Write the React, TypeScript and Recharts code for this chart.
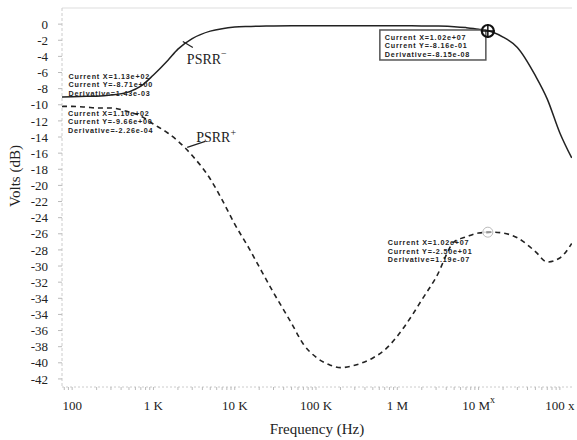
import {
  LineChart,
  Line,
  XAxis,
  YAxis,
  Label,
  ReferenceDot,
  ReferenceLine,
} from "recharts";

// frequency grid (Hz)
const frequencies = [
  75, 100, 150, 200, 300, 500, 700, 1e3, 1.5e3, 2e3, 3e3, 5e3, 7e3, 1e4, 1.5e4,
  2e4, 3e4, 5e4, 7e4, 1e5, 1.5e5, 2e5, 3e5, 5e5, 7e5, 1e6, 1.5e6, 2e6, 3e6, 5e6,
  7e6, 1e7, 1.5e7, 2e7, 3e7, 5e7, 7e7, 1e8, 1.4e8,
];

// PSRR- (solid)
const psrrMinus = [
  -9.05, -9.0, -8.95, -8.93, -8.8, -8.4, -7.7, -6.3, -4.5, -3.1, -1.8, -0.87,
  -0.56, -0.37, -0.29, -0.25, -0.22, -0.2, -0.2, -0.2, -0.2, -0.2, -0.2, -0.2,
  -0.2, -0.2, -0.21, -0.22, -0.24, -0.31, -0.43, -0.62, -1.0, -1.6, -2.9, -6.4,
  -9.3, -13.5, -16.6,
];

// PSRR+ (dashed)
const psrrPlus = [
  -10.2, -10.2, -10.3, -10.4, -10.4, -10.9, -11.4, -12.4, -13.5, -14.5, -16.3,
  -19.2, -21.8, -24.8, -27.8, -30.1, -33.3, -37.1, -39.7, -41.3, -42.3, -42.6,
  -42.3, -41.4, -40.4, -38.7, -36.2, -34.2, -31.4, -27.0, -26.4, -25.9, -25.8,
  -25.9, -26.5, -28.2, -29.5, -29.0, -27.2,
];

const xMajorTicks = [1e2, 1e3, 1e4, 1e5, 1e6, 1e7, 1e8];
const xTickLabels = ["100", "1 K", "10 K", "100 K", "1 M", "10 M", "100 x"];
const xTickSup = ["", "", "", "", "", "x", ""];

const yTicks = [
  0, -2, -4, -6, -8, -10, -12, -14, -16, -18, -20, -22, -24, -26, -28, -30, -32,
  -34, -36, -38, -40, -42, -44,
];
const yTickLabels = [
  "0", "-2", "-4", "-6", "-8", "-10", "-12", "-14", "-16", "-18", "-20", "-22",
  "-24", "-26", "-28", "-30", "-32", "-34", "-34", "-36", "-38", "-40", "-42",
];

// cursor readouts
const readoutMinusLow = {
  freq: 113,
  volts: -9.0,
  lines: ["Current X=1.13e+02", "Current Y=-8.71e+00", "Derivative=1.43e-03"],
};
const readoutPlusLow = {
  freq: 110,
  volts: -10.4,
  lines: ["Current X=1.10e+02", "Current Y=-9.66e+00", "Derivative=-2.26e-04"],
};
const readoutMinusHigh = {
  freq: 1.3e7,
  volts: -0.85,
  lines: ["Current X=1.02e+07", "Current Y=-8.16e-01", "Derivative=-8.15e-08"],
};
const readoutPlusHigh = {
  freq: 1.3e7,
  volts: -25.8,
  lines: ["Current X=1.02e+07", "Current Y=-2.50e+01", "Derivative=1.19e-07"],
};

const rows = frequencies.map((f, i) => ({
  freq: f,
  minus: psrrMinus[i],
  plus: psrrPlus[i],
}));

// minor log ticks (2..9 per decade) drawn as small marks without labels
const xTicks: number[] = [80, 90];
xMajorTicks.forEach((d) => {
  [1, 2, 3, 4, 5, 6, 7, 8, 9].forEach((m) => {
    const t = d * m;
    if (t <= 1.41e8) xTicks.push(t);
  });
});

const SERIF = "'Liberation Serif', 'Times New Roman', serif";
const SANS = "'Liberation Sans', Arial, sans-serif";

function FreqTick(props: any) {
  const { x, y, payload } = props;
  const idx = xMajorTicks.findIndex(
    (t) => Math.abs(t - payload.value) / t < 1e-6
  );
  if (idx < 0) return <g />;
  return (
    <text
      x={x}
      y={y}
      dy="0.71em"
      textAnchor="middle"
      fontFamily={SERIF}
      fontSize={13}
      fill="#222"
    >
      {xTickLabels[idx]}
      {xTickSup[idx] && (
        <tspan dy={-7} fontSize={10}>
          {xTickSup[idx]}
        </tspan>
      )}
    </text>
  );
}

function ReadoutText({ x, y, lines }: { x: number; y: number; lines: string[] }) {
  return (
    <g>
      {lines.map((t, i) => (
        <text
          key={i}
          x={x}
          y={y + i * 8.5}
          fontFamily={SANS}
          fontWeight="bold"
          fontSize={7.2}
          letterSpacing={0.8}
          fill="#222"
        >
          {t}
        </text>
      ))}
    </g>
  );
}

function YTitle(props: any) {
  const { viewBox } = props;
  const x = viewBox.x + 20;
  const y = viewBox.y + 168;
  return (
    <text
      x={x}
      y={y}
      transform={`rotate(-90 ${x} ${y})`}
      textAnchor="middle"
      fontFamily={SERIF}
      fontSize={15}
      fill="#222"
    >
      Volts (dB)
    </text>
  );
}

export default function App() {
  return (
    <div
      style={{
        position: "absolute",
        left: 0,
        top: 0,
        width: 577,
        height: 440,
        background: "#fff",
      }}
    >
      <LineChart
        width={577}
        height={440}
        data={rows}
        margin={{ top: 8, right: 5, bottom: 6, left: 0 }}
      >
        <XAxis
          dataKey="freq"
          type="number"
          scale="log"
          domain={[75, 1.41e8]}
          allowDataOverflow
          ticks={xTicks}
          interval={0}
          height={47}
          tickSize={3}
          tickMargin={11}
          tick={<FreqTick />}
          axisLine={{ stroke: "#ccc", strokeDasharray: "2 2" }}
          tickLine={{ stroke: "#bbb" }}
        >
          <Label
            value="Frequency (Hz)"
            position="insideBottom"
            offset={0}
            style={{ fontFamily: SERIF, fontSize: 15, fill: "#222" }}
          />
        </XAxis>
        <YAxis
          type="number"
          domain={[-45, 2]}
          allowDataOverflow
          ticks={yTicks}
          interval={0}
          width={62}
          tickSize={4}
          tickMargin={10}
          tickFormatter={(v: number) => yTickLabels[Math.round(-v / 2)]}
          tick={{ fontFamily: SERIF, fontSize: 13, fill: "#222" }}
          axisLine={{ stroke: "#ccc", strokeDasharray: "3 2" }}
          tickLine={{ stroke: "#bbb" }}
          label={<YTitle />}
        />
        <ReferenceLine y={2} stroke="#ddd" />

        <Line
          type="monotone"
          dataKey="minus"
          stroke="#222"
          strokeWidth={1.5}
          dot={false}
          isAnimationActive={false}
        />
        <Line
          type="monotone"
          dataKey="plus"
          stroke="#222"
          strokeWidth={1.6}
          strokeDasharray="5 4"
          dot={false}
          isAnimationActive={false}
        />

        {/* curve labels */}
        <ReferenceDot
          x={2300}
          y={-2.65}
          r={0}
          shape={(p: any) => (
            <g>
              <line
                x1={p.cx}
                y1={p.cy - 4}
                x2={p.cx + 10}
                y2={p.cy + 2}
                stroke="#222"
                strokeWidth={1.2}
              />
              <text
                x={p.cx + 4}
                y={p.cy + 19}
                fontFamily={SERIF}
                fontSize={14}
                fill="#222"
              >
                PSRR
                <tspan dy={-7} fontSize={10}>
                  −
                </tspan>
              </text>
            </g>
          )}
        />
        <ReferenceDot
          x={2600}
          y={-15.66}
          r={0}
          shape={(p: any) => (
            <g>
              <line
                x1={p.cx}
                y1={p.cy - 3}
                x2={p.cx + 18}
                y2={p.cy - 9}
                stroke="#222"
                strokeWidth={1.2}
              />
              <text
                x={p.cx + 9}
                y={p.cy - 8}
                fontFamily={SERIF}
                fontSize={14}
                fill="#222"
              >
                PSRR
                <tspan dy={-6} fontSize={10}>
                  +
                </tspan>
              </text>
            </g>
          )}
        />

        {/* cursor readouts */}
        <ReferenceDot
          x={readoutMinusLow.freq}
          y={readoutMinusLow.volts}
          r={0}
          shape={(p: any) => (
            <ReadoutText x={p.cx - 8} y={p.cy - 18} lines={readoutMinusLow.lines} />
          )}
        />
        <ReferenceDot
          x={readoutPlusLow.freq}
          y={readoutPlusLow.volts}
          r={0}
          shape={(p: any) => (
            <ReadoutText x={p.cx - 7.5} y={p.cy + 8} lines={readoutPlusLow.lines} />
          )}
        />
        <ReferenceDot
          x={readoutPlusHigh.freq}
          y={readoutPlusHigh.volts}
          r={0}
          shape={(p: any) => (
            <g>
              <circle cx={p.cx} cy={p.cy} r={5} fill="none" stroke="#bbb" />
              <line x1={p.cx - 5} y1={p.cy} x2={p.cx + 5} y2={p.cy} stroke="#ccc" />
              <ReadoutText x={p.cx - 100} y={p.cy + 13} lines={readoutPlusHigh.lines} />
            </g>
          )}
        />
        <ReferenceDot
          x={readoutMinusHigh.freq}
          y={readoutMinusHigh.volts}
          r={0}
          shape={(p: any) => (
            <g>
              <rect
                x={p.cx - 108}
                y={p.cy - 1}
                width={106}
                height={30}
                fill="#fff"
                stroke="#555"
                strokeWidth={1.5}
              />
              <ReadoutText x={p.cx - 103} y={p.cy + 9} lines={readoutMinusHigh.lines} />
              <circle
                cx={p.cx}
                cy={p.cy}
                r={6}
                fill="none"
                stroke="#111"
                strokeWidth={2.2}
              />
              <line x1={p.cx - 7} y1={p.cy} x2={p.cx + 7} y2={p.cy} stroke="#111" strokeWidth={1.5} />
              <line x1={p.cx} y1={p.cy - 7} x2={p.cx} y2={p.cy + 7} stroke="#111" strokeWidth={1.5} />
            </g>
          )}
        />
      </LineChart>
    </div>
  );
}
